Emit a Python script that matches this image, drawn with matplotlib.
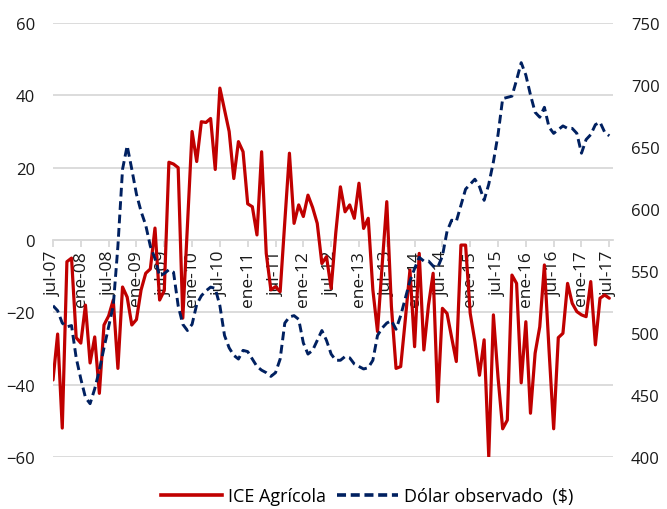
import matplotlib
matplotlib.use("Agg")
import matplotlib.pyplot as plt
from matplotlib.lines import Line2D

# Monthly data, jul-07 .. jul-17 (121 months)
ice_agricola = [
    -38.7, -26, -52, -6, -5, -27, -28.5, -18, -34, -26.8,
    -42.4, -23.5, -21, -16.6, -35.5, -13, -15.8, -23.5, -22, -13.8,
    -9.2, -8, 3.3, -16.6, -14, 21.5, 21, 20, -21.6, 4,
    30, 21.7, 32.7, 32.5, 33.6, 19.5, 42, 36, 30, 17,
    27.2, 24.4, 10, 9.2, 1.4, 24.4, -3.7, -13.8, -12.9, -14.3,
    5, 24, 4.6, 9.7, 6.5, 12.4, 9, 4.6, -6.5, -4.6,
    -13.4, 2, 14.7, 7.8, 9.7, 6, 15.7, 3.2, 6, -13.8,
    -25.3, -7, 10.6, -18.4, -35.5, -35, -22, -8.3, -29.5, -3.7,
    -30.4, -18, -9.2, -44.7, -18.9, -20.3, -27, -33.6, -1.4, -1.4,
    -20.3, -28, -37.4, -27.6, -59.9, -20.7, -38, -52.2, -49.8, -9.7,
    -12, -39.5, -22.6, -47.9, -31.3, -24, -6.9, -30.4, -52.2, -27,
    -25.8, -12, -17.5, -19.8, -20.7, -21.2, -11.5, -29, -16.1, -15.2,
    -16.1,
]

dolar_observado = [
    522, 518, 508, 505, 506, 480, 463, 448, 443, 455,
    470, 488, 505, 522, 570, 632, 651, 632, 612, 598,
    587, 570, 560, 546, 548, 551, 549, 522, 507, 502,
    507, 523, 530, 534, 537, 536, 522, 498, 488, 482,
    479, 486, 485, 479, 473, 470, 468, 465, 468, 479,
    508, 513, 514, 511, 492, 483, 486, 494, 502, 494,
    483, 478, 478, 481, 480, 475, 473, 471, 472, 478,
    498, 504, 508, 510, 503, 514, 528, 542, 552, 561,
    558, 558, 554, 553, 562, 582, 591, 590, 603, 616,
    620, 624, 618, 607, 620, 638, 660, 689, 690, 691,
    704, 718, 708, 692, 678, 674, 682, 666, 661, 664,
    667, 665, 665, 661, 645, 656, 660, 668, 670, 662,
    659,
]

tick_labels = ["jul-07", "ene-08", "jul-08", "ene-09", "jul-09", "ene-10", "jul-10",
               "ene-11", "jul-11", "ene-12", "jul-12", "ene-13", "jul-13", "ene-14",
               "jul-14", "ene-15", "jul-15", "ene-16", "jul-16", "ene-17", "jul-17"]

series_names = ["ICE Agrícola", "Dólar observado  ($)"]

plt.rcParams['font.family'] = ['Open Sans', 'DejaVu Sans']

W, H = 667, 510
fig = plt.figure(figsize=(W / 100, H / 100), dpi=100)
left, right, top, bottom = 53, 613, 24, 458
ax = fig.add_axes([left / W, 1 - bottom / H, (right - left) / W, (bottom - top) / H])

months = list(range(len(ice_agricola)))
red = "#C00000"
navy = "#002060"
txt = "#1a1a1a"

ax.set_xlim(0, 120.8)
ax.set_ylim(-60, 60)
ax.set_yticks(range(-60, 61, 20))
ax.yaxis.grid(True, color="#D9D9D9", linewidth=1.3)
ax.set_axisbelow(True)
for s in ["top", "right", "left"]:
    ax.spines[s].set_visible(False)
ax.spines["bottom"].set_position(("data", 0))
ax.spines["bottom"].set_color("#D9D9D9")
ax.spines["bottom"].set_linewidth(1.3)
ax.tick_params(axis="y", length=0, labelsize=12, pad=13, labelcolor=txt)
ax.set_xticks(range(0, 121, 6))
ax.set_xticklabels(tick_labels, rotation=90, fontsize=12.5, color=txt)
ax.tick_params(axis="x", length=5, color="#D9D9D9", width=1.3, pad=2)
for lbl in ax.get_xticklabels():
    lbl.set_horizontalalignment("center")
    lbl.set_verticalalignment("top")

l1, = ax.plot(months, ice_agricola, color=red, linewidth=2.3, solid_joinstyle="round",
              solid_capstyle="round", zorder=3)

ax2 = ax.twinx()
ax2.set_ylim(400, 750)
ax2.set_yticks(range(400, 751, 50))
for s in ["top", "right", "left", "bottom"]:
    ax2.spines[s].set_visible(False)
ax2.tick_params(axis="y", length=0, labelsize=12, pad=13, labelcolor=txt)
l2, = ax2.plot(months, dolar_observado, color=navy, linewidth=2.1, linestyle=(0, (3, 1.6)),
               dash_joinstyle="round", zorder=3)

handles = [Line2D([], [], color=red, linewidth=2.6),
           Line2D([], [], color=navy, linewidth=2.6, linestyle=(0, (2.5, 1.3)))]
fig.legend(handles, series_names, loc="center", bbox_to_anchor=(367 / W, 1 - 497 / H),
           ncol=2, frameon=False, fontsize=13, handlelength=3.4, columnspacing=0.6,
           handletextpad=0.3)

fig.savefig("out.png", dpi=100)
